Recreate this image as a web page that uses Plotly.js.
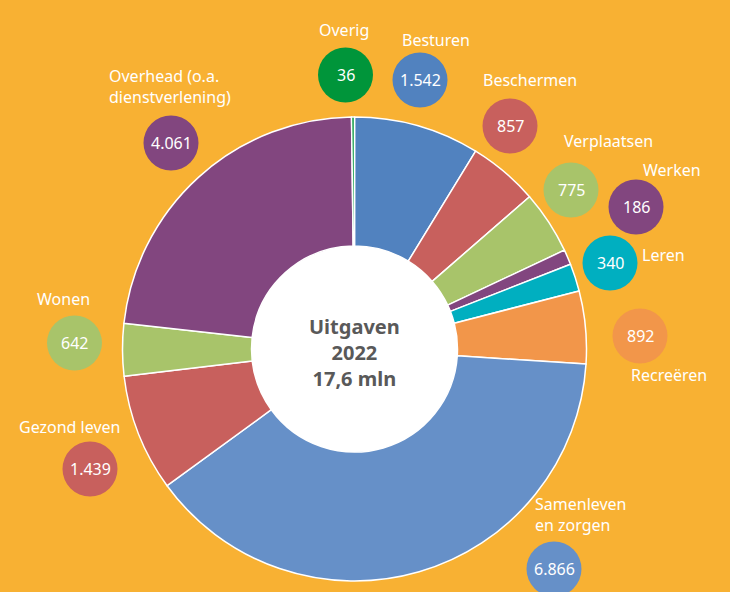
<!DOCTYPE html>
<html>
<head>
<meta charset="utf-8">
<script src="https://cdn.plot.ly/plotly-3.0.1.min.js"></script>
<style>
  html, body { margin: 0; padding: 0; background: #F8B133; }
  #chart { width: 730px; height: 592px; }
</style>
</head>
<body>
<div id="chart"></div>
<script>
// ---- Data (uitgaven 2022, x € 1.000) ----
const categories = ["Besturen", "Beschermen", "Verplaatsen", "Werken", "Leren", "Recreëren",
                    "Samenleven en zorgen", "Gezond leven", "Wonen", "Overhead (o.a. dienstverlening)", "Overig"];
const values = [1542, 857, 775, 186, 340, 892, 6866, 1439, 642, 4061, 36];
const valueLabels = ["1.542", "857", "775", "186", "340", "892", "6.866", "1.439", "642", "4.061", "36"];
const labelTexts = ["Besturen", "Beschermen", "Verplaatsen", "Werken", "Leren", "Recreëren",
                    "Samenleven<br>en zorgen", "Gezond leven", "Wonen", "Overhead (o.a.<br>dienstverlening)", "Overig"];
const centerText = "Uitgaven<br>2022<br>17,6 mln";

// ---- Styling ----
const colors = ["#5182BF", "#C8605D", "#A8C46A", "#82467F", "#00AFC0", "#F2964A",
                "#6690C8", "#C8605D", "#A8C46A", "#82467F", "#00953A"];
const W = 730, H = 592;
const cx = 354.5, cy = 349, R = 232, r = 103;
// label layout in pixels: circle centre, text position, text anchor
const circlePos = [[420, 80], [510, 126], [571, 190], [636, 207], [610, 263], [640, 336],
                   [554, 569], [90, 469], [74.5, 343], [171, 143], [345.5, 75]];
const textPos = [[436, 40, "center"], [530, 80, "center"], [608, 141, "center"], [672, 170, "center"],
                 [663, 255, "center"], [669, 375, "center"], [533, 514, "left"], [69, 427, "center"],
                 [63, 299, "center"], [107, 86, "left"], [344, 30, "center"]];

const px = x => x / W;
const py = y => 1 - y / H;

const font = "Noto Sans, Open Sans, sans-serif";

const trace = {
  type: "pie",
  labels: categories,
  values: values,
  sort: false,
  direction: "clockwise",
  rotation: 0,
  hole: r / R,
  marker: { colors: colors, line: { color: "#FFFFFF", width: 1.5 } },
  textinfo: "none",
  hoverinfo: "label+value",
  showlegend: false,
  domain: { x: [px(cx - R), px(cx + R)], y: [py(cy + R), py(cy - R)] }
};

const shapes = [{
  type: "circle", layer: "below", xref: "paper", yref: "paper",
  xsizemode: "pixel", ysizemode: "pixel", xanchor: px(cx), yanchor: py(cy),
  x0: -r - 2, x1: r + 2, y0: -r - 2, y1: r + 2,
  fillcolor: "#FFFFFF", line: { width: 0 }
}];
const annotations = [{
  xref: "paper", yref: "paper", x: px(cx), y: py(352), xanchor: "center", yanchor: "middle",
  text: "<b>" + centerText + "</b>", showarrow: false, align: "center",
  font: { family: font, size: 20, color: "#595959" }
}];

categories.forEach((c, i) => {
  const [x, y] = circlePos[i];
  shapes.push({
    type: "circle", layer: "above", xref: "paper", yref: "paper",
    xsizemode: "pixel", ysizemode: "pixel", xanchor: px(x), yanchor: py(y),
    x0: -27.5, x1: 27.5, y0: -27.5, y1: 27.5,
    fillcolor: colors[i], line: { width: 0 }
  });
  annotations.push({
    xref: "paper", yref: "paper", x: px(x), y: py(y), xanchor: "center", yanchor: "middle",
    text: valueLabels[i], showarrow: false,
    font: { family: font, size: 16, color: "#FFFFFF" }
  });
  const [tx, ty, anchor] = textPos[i];
  annotations.push({
    xref: "paper", yref: "paper", x: px(tx), y: py(ty), xanchor: anchor, yanchor: "middle",
    text: labelTexts[i], showarrow: false, align: "left",
    font: { family: font, size: 16, color: "#FFFFFF" }
  });
});

const layout = {
  width: W, height: H,
  margin: { l: 0, r: 0, t: 0, b: 0 },
  paper_bgcolor: "#F8B133",
  plot_bgcolor: "#F8B133",
  shapes: shapes,
  annotations: annotations
};

Plotly.newPlot("chart", [trace], layout, { displayModeBar: false, staticPlot: true });
</script>
</body>
</html>
